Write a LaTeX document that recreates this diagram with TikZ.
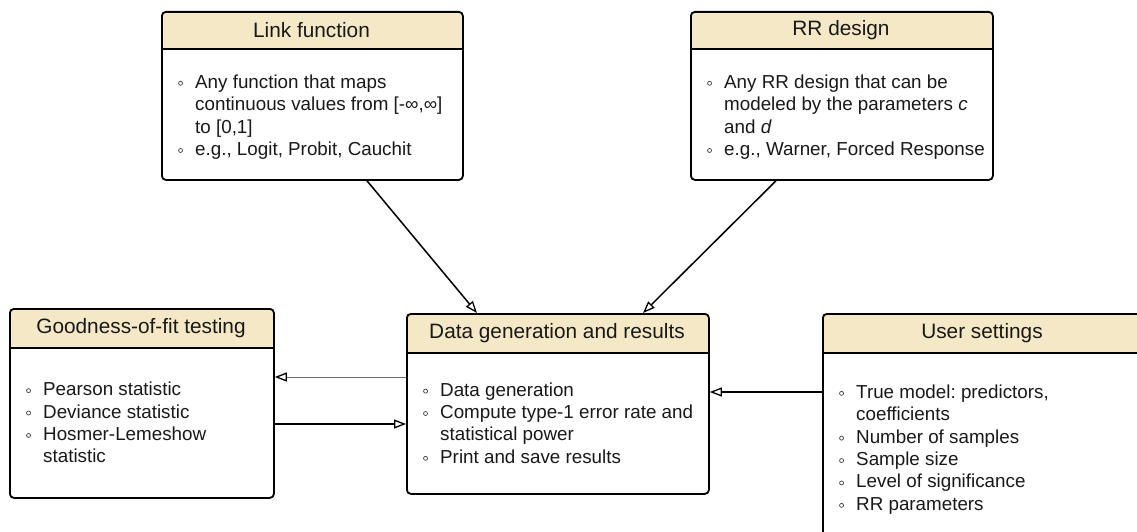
\documentclass[tikz,border=0pt]{standalone}
\usepackage{fontspec}
\setmainfont{Liberation Sans}
\usetikzlibrary{arrows.meta,calc}
\definecolor{hdr}{RGB}{244,232,198}
\definecolor{thin}{RGB}{110,110,110}
\frenchspacing
\newcommand{\bodyfont}{\fontsize{18.8}{22.4}\selectfont\frenchspacing}
\newcommand{\titlefont}{\fontsize{20.8}{25}\selectfont}
\newcommand{\bul}{\makebox[17pt][l]{\tikz[baseline=-5pt]\draw[line width=0.7pt, black!75] (0pt,0pt) circle (2pt);}}
\newcommand{\ind}{\hspace*{17pt}}
\tikzset{
  frame/.style={draw=black, line width=1.8pt, rounded corners=4pt, inner sep=0pt, fill=none},
  sepline/.style={draw=black, line width=1.8pt},
  ttl/.style={font=\titlefont, inner sep=0pt, text=black!90},
  bodytext/.style={font=\bodyfont, align=left, inner sep=0pt, text=black!90},
  conn/.style={line width=1.5pt, draw=black, -{Triangle[length=12pt,width=9pt,color=black,fill=white,line width=1.3pt]}},
  thinconn/.style={line width=1pt, draw=thin, -{Triangle[length=12pt,width=9pt,color=black,fill=white,line width=1.3pt]}}
}
% name, x, y, w, h, header height, title, body-offset, body
\newcommand{\umlbox}[9]{%
  \fill[white, rounded corners=4pt] (#2,#3) rectangle ++(#4,#5);
  \begin{scope}
    \clip[rounded corners=4pt] (#2,#3) rectangle ++(#4,#5);
    \fill[hdr] (#2,#3) rectangle ++(#4,#6);
  \end{scope}
  \draw[sepline] (#2,{#3+#6}) -- ++(#4,0);
  \node[frame, minimum width=#4pt, minimum height=#5pt, anchor=north west] (#1) at (#2,#3) {};
  \node[ttl] at ({#2+#4/2},{#3+#6/2}) {#7};
  \node[bodytext, anchor=west] at ({#2+17},{#3+(#6+#5)/2+#8}) {#9};
}
\begin{document}
\begin{tikzpicture}[x=1pt,y=-1pt]
\useasboundingbox (0,0) rectangle (1137,532);
\clip (0,0) rectangle (1137,532);
\fill[white] (0,0) rectangle (1137,532);

\umlbox{link}{161}{11}{301}{168}{38}{Link function}{3}{%
\bul Any function that maps\\
\ind continuous values from [-∞,∞]\\
\ind to [0,1]\\
\bul e.g., Logit, Probit, Cauchit}

\umlbox{rr}{690}{11}{302}{168}{38}{RR design}{3}{%
\bul Any RR design that can be\\
\ind modeled by the parameters \textit{c}\\
\ind and \textit{d}\\
\bul e.g., Warner, Forced Response}

\umlbox{gof}{9}{308}{264}{189}{40}{Goodness-of-fit testing}{0}{%
\bul Pearson statistic\\
\bul Deviance statistic\\
\bul Hosmer-Lemeshow\\
\ind statistic}

\umlbox{data}{406}{313}{302}{180}{40}{Data generation and results}{0}{%
\bul Data generation\\
\bul Compute type-1 error rate and\\
\ind statistical power\\
\bul Print and save results}

\umlbox{user}{822}{313}{320}{233}{40}{User settings}{0}{%
\bul True model: predictors,\\
\ind coefficients\\
\bul Number of samples\\
\bul Sample size\\
\bul Level of significance\\
\bul RR parameters}

\draw[conn] ($(link.south west)+(206,0)$) -- ($(data.north west)+(71,0)$);
\draw[conn] ($(rr.south west)+(86,0)$) -- ($(data.north west)+(237,0)$);
\draw[thinconn] ($(data.north west)+(0,64)$) -- ($(gof.north east)+(0,69)$);
\draw[conn] ($(gof.north east)+(0,116)$) -- ($(data.north west)+(0,111)$);
\draw[conn] ($(user.north west)+(0,79)$) -- ($(data.north east)+(0,79)$);
\end{tikzpicture}
\end{document}
